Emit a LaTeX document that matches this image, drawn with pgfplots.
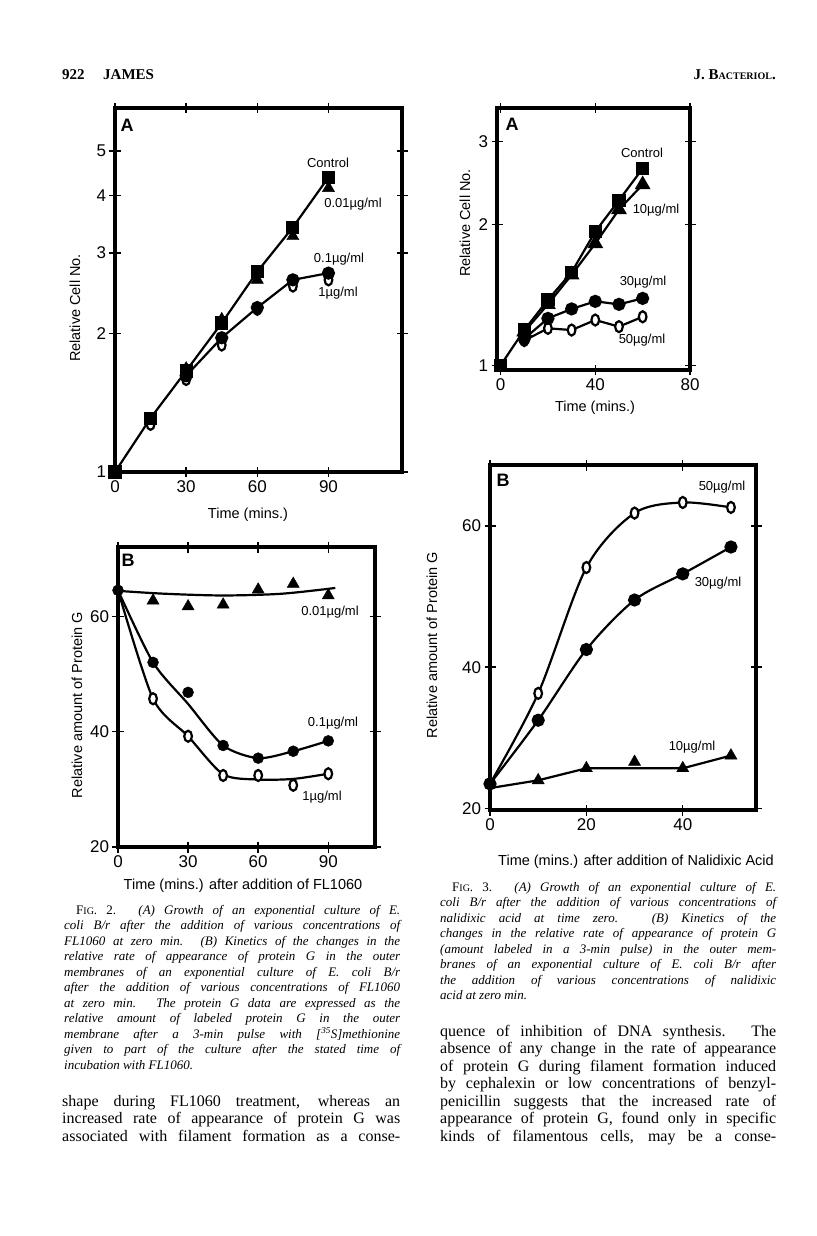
\documentclass[border=0pt]{standalone}
\usepackage{fontspec}
\setmainfont{Liberation Serif}
\newfontfamily\figfont{Liberation Sans}
\usepackage{pgfplots}
\pgfplotsset{compat=1.18}
\newcommand\tk{\figfont\fontsize{17}{17}\selectfont}
\newcommand\lab{\figfont\fontsize{14.5}{14.5}\selectfont}
\newcommand\ser{\figfont\fontsize{13}{13}\selectfont}
\newcommand\pan{\figfont\bfseries\fontsize{18}{18}\selectfont}
\newcommand\capsz{\fontsize{13}{14}\selectfont\itshape}
\newcommand\bodysz{\fontsize{16}{17}\selectfont}
\newcommand\smc[1]{{\fontsize{10}{10}\selectfont #1}}
\newcommand\jl[4]{\node[anchor=base west,inner sep=0pt] at (#1pt,-#2pt) {\makebox[#3pt][s]{#4}};}
\newcommand\lft[3]{\node[anchor=base west,inner sep=0pt] at (#1pt,-#2pt) {#3};}
\pgfplotsset{
  pg/.style={scale only axis, anchor=south west, clip=false,
    axis line style={line width=4.5pt, line cap=rect},
    tick align=center, major tick length=11pt,
    tick style={black, line width=1.4pt},
    ticklabel style={font=\tk},
    minor tick num=0},
  sq/.style={black, mark=square*, mark size=5.5pt},
  tri/.style={black, mark=triangle*, mark size=7pt},
  fc/.style={black, mark=*, mark size=5.5pt},
  oc/.style={black, mark=*, mark size=5.5pt, mark options={fill=white, draw=black, line width=2.2pt, xscale=0.7}},
  ln/.style={line width=2.2pt},
}
\begin{document}
\begin{tikzpicture}
\useasboundingbox (0,0) rectangle (816pt,-1236pt);
\fill[white] (0,0) rectangle (816pt,-1236pt);

% ---------------- Fig 2A ----------------
\begin{axis}[pg, at={(115pt,-472pt)}, width=287pt, height=364pt,
  ymode=log, xmin=0, xmax=121, ymin=1, ymax=6.2,
  xtick={0,30,60,90}, xticklabels={0,30,60,90},
  ytick={1,2,3,4,5}, yticklabels={1,2,3,4,5}]
\addplot[only marks, oc] coordinates {(0,1)(15,1.27)(30,1.59)(45,1.89)(60,2.26)(75,2.54)(90,2.62)};
\addplot[ln, fc] coordinates {(30,1.62)(45,1.96)(60,2.28)(75,2.62)(90,2.71)};
\addplot[only marks, tri] coordinates {(30,1.68)(45,2.15)(60,2.62)(75,3.26)(90,4.15)};
\addplot[ln, sq] coordinates {(0,1)(15,1.31)(30,1.66)(45,2.11)(60,2.73)(75,3.41)(90,4.38)};
\end{axis}

% ---------------- Fig 2B ----------------
\begin{axis}[pg, at={(118pt,-847pt)}, width=257pt, height=300pt,
  axis line style={line width=3.5pt},
  xmin=0, xmax=110, ymin=20, ymax=72,
  xtick={0,30,60,90}, xticklabels={0,30,60,90},
  ytick={20,40,60}, yticklabels={20,40,60}]
\addplot[ln, smooth, no markers] coordinates {(0,64.4)(20,63.9)(45,63.6)(70,63.9)(93,64.9)};
\addplot[ln, smooth, tension=0.45, no markers] coordinates {(0,64.5)(15,52.0)(30,44.8)(45,37.6)(60,35.4)(75,36.6)(90,38.4)};
\addplot[ln, smooth, tension=0.45, no markers] coordinates {(0,64.5)(15,45.7)(30,39.2)(45,32.6)(60,31.7)(75,31.8)(90,32.7)};
\addplot[only marks, oc] coordinates {(15,45.7)(30,39.2)(45,32.4)(60,32.4)(75,30.7)(90,32.7)};
\addplot[only marks, fc] coordinates {(0,64.5)(15,52.0)(30,46.8)(45,37.6)(60,35.4)(75,36.6)(90,38.4)};
\addplot[only marks, tri] coordinates {(15,62.7)(30,61.7)(45,62.0)(60,64.6)(75,65.6)(90,63.6)};
\end{axis}

% ---------------- Fig 3A ----------------
\begin{axis}[pg, at={(497pt,-370pt)}, width=193pt, height=262pt,
  ymode=log, xmin=-1.5, xmax=80, ymin=0.978, ymax=3.54,
  xtick={0,40,80}, xticklabels={0,40,80},
  ytick={1,2,3}, yticklabels={1,2,3}]
\addplot[ln, oc] coordinates {(10,1.13)(20,1.20)(30,1.19)(40,1.25)(50,1.21)(60,1.27)};
\addplot[ln, fc] coordinates {(10,1.14)(20,1.26)(30,1.32)(40,1.37)(50,1.35)(60,1.39)};
\addplot[ln, tri] coordinates {(10,1.18)(20,1.35)(30,1.56)(40,1.82)(50,2.15)(60,2.43)};
\addplot[ln, sq] coordinates {(0,1)(10,1.19)(20,1.38)(30,1.58)(40,1.93)(50,2.25)(60,2.63)};
\end{axis}

% ---------------- Fig 3B ----------------
\begin{axis}[pg, at={(490pt,-810pt)}, width=266pt, height=345pt,
  xmin=0, xmax=55.2, ymin=19.8, ymax=68.6,
  xtick={0,20,40}, xticklabels={0,20,40},
  ytick={20,40,60}, yticklabels={20,40,60}]
\addplot[ln, smooth, tension=0.5, oc] coordinates {(0,23.5)(10,36.3)(20,54.1)(30,61.8)(40,63.3)(50,62.6)};
\addplot[ln, smooth, tension=0.5, fc] coordinates {(0,23.5)(10,32.5)(20,42.5)(30,49.5)(40,53.2)(50,57.0)};
\addplot[ln, no markers] coordinates {(0,22.9)(10,24.0)(20,25.7)(30,25.7)(40,25.7)(50,27.5)};
\addplot[only marks, tri] coordinates {(10,24.0)(20,25.7)(30,26.6)(40,25.7)(50,27.5)};
\end{axis}

% ---------------- figure texts ----------------
\node[rotate=90] at (75pt,-308pt) {\lab Relative Cell No.};
\node at (248pt,-515pt) {\lab Time (mins.)};
\node at (127pt,-125pt) {\pan A};
\node at (328pt,-163pt) {\ser Control};
\node at (353pt,-204pt) {\ser 0.01µg/ml};
\node at (339pt,-259pt) {\ser 0.1µg/ml};
\node at (338pt,-293pt) {\ser 1µg/ml};

\node[rotate=90] at (77pt,-705pt) {\lab Relative amount of Protein G};
\node at (243pt,-886pt) {\lab Time (mins.) after addition of FL1060};
\node at (128pt,-560pt) {\pan B};
\node at (330pt,-612pt) {\ser 0.01µg/ml};
\node at (333pt,-723pt) {\ser 0.1µg/ml};
\node at (322pt,-797pt) {\ser 1µg/ml};

\node[rotate=90] at (465pt,-223pt) {\lab Relative Cell No.};
\node at (595pt,-408pt) {\lab Time (mins.)};
\node at (512pt,-124pt) {\pan A};
\node at (642pt,-153pt) {\ser Control};
\node at (656pt,-210pt) {\ser 10µg/ml};
\node at (643pt,-282pt) {\ser 30µg/ml};
\node at (642pt,-340pt) {\ser 50µg/ml};

\node[rotate=90] at (432pt,-645pt) {\lab Relative amount of Protein G};
\node at (636pt,-862pt) {\lab Time (mins.) after addition of Nalidixic Acid};
\node at (503pt,-480pt) {\pan B};
\node at (722pt,-487pt) {\ser 50µg/ml};
\node at (718pt,-583pt) {\ser 30µg/ml};
\node at (692pt,-747pt) {\ser 10µg/ml};

% ---------------- header ----------------
\node[anchor=base west,inner sep=0pt] at (62pt,-80pt) {\fontsize{15}{15}\selectfont\bfseries 922};
\node[anchor=base west,inner sep=0pt] at (103pt,-80pt) {\fontsize{15}{15}\selectfont\bfseries JAMES};
\node[anchor=base east,inner sep=0pt] at (776pt,-80pt) {\fontsize{15}{15}\selectfont\bfseries J. B\smc{ACTERIOL}.};

% ---------------- caption Fig 2 ----------------
\jl{76}{914}{324}{\capsz {\upshape F\smc{IG}. 2.} (A) Growth of an exponential culture of E.}
\jl{64}{929.5}{336}{\capsz coli B/r after the addition of various concentrations of}
\jl{64}{945}{336}{\capsz FL1060 at zero min. (B) Kinetics of the changes in the}
\jl{64}{960.5}{336}{\capsz relative rate of appearance of protein G in the outer}
\jl{64}{976}{336}{\capsz membranes of an exponential culture of E. coli B/r}
\jl{64}{991.5}{336}{\capsz after the addition of various concentrations of FL1060}
\jl{64}{1007}{336}{\capsz at zero min. The protein G data are expressed as the}
\jl{64}{1022.5}{336}{\capsz relative amount of labeled protein G in the outer}
\jl{64}{1038}{336}{\capsz membrane after a 3-min pulse with [\textsuperscript{35}S]methionine}
\jl{64}{1053.5}{336}{\capsz given to part of the culture after the stated time of}
\lft{64}{1069}{\capsz incubation with FL1060.}

% ---------------- caption Fig 3 ----------------
\jl{452}{891}{324}{\capsz {\upshape F\smc{IG}. 3.} (A) Growth of an exponential culture of E.}
\jl{440}{906.5}{336}{\capsz coli B/r after the addition of various concentrations of}
\jl{440}{922}{336}{\capsz nalidixic acid at time zero. (B) Kinetics of the}
\jl{440}{937.5}{336}{\capsz changes in the relative rate of appearance of protein G}
\jl{440}{953}{336}{\capsz (amount labeled in a 3-min pulse) in the outer mem-}
\jl{440}{968.5}{336}{\capsz branes of an exponential culture of E. coli B/r after}
\jl{440}{984}{336}{\capsz the addition of various concentrations of nalidixic}
\lft{440}{999.5}{\capsz acid at zero min.}

% ---------------- body text ----------------
\jl{62}{1106}{338}{\bodysz shape during FL1060 treatment, whereas an}
\jl{62}{1123.5}{338}{\bodysz increased rate of appearance of protein G was}
\jl{62}{1141}{338}{\bodysz associated with filament formation as a conse-}

\jl{440}{1036}{336}{\bodysz quence of inhibition of DNA synthesis. The}
\jl{440}{1053.5}{336}{\bodysz absence of any change in the rate of appearance}
\jl{440}{1071}{336}{\bodysz of protein G during filament formation induced}
\jl{440}{1088.5}{336}{\bodysz by cephalexin or low concentrations of benzyl-}
\jl{440}{1106}{336}{\bodysz penicillin suggests that the increased rate of}
\jl{440}{1123.5}{336}{\bodysz appearance of protein G, found only in specific}
\jl{440}{1141}{336}{\bodysz kinds of filamentous cells, may be a conse-}
\end{tikzpicture}
\end{document}
